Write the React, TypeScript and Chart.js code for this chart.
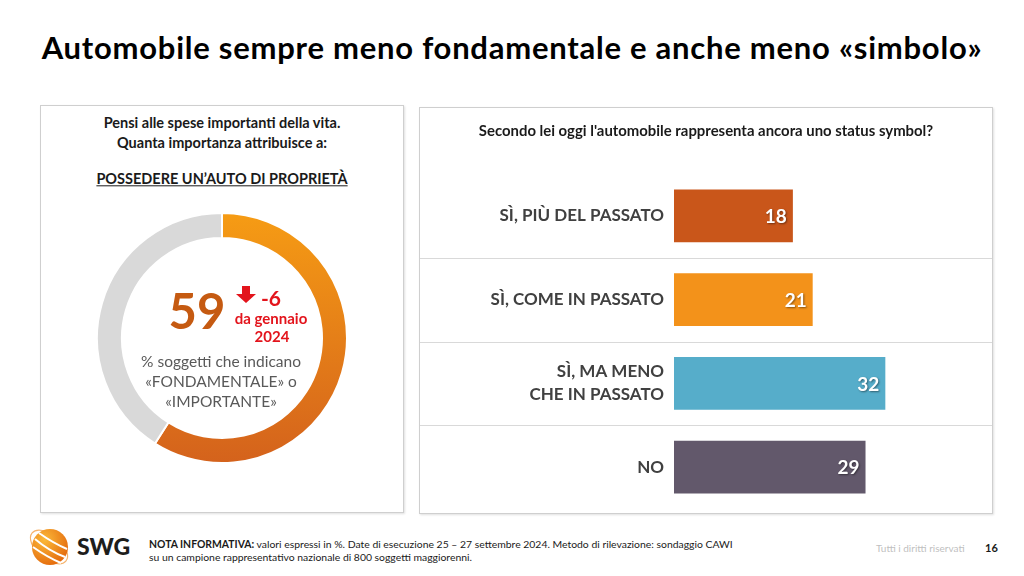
import React, { useEffect, useRef } from 'react';
import { Chart, registerables } from 'chart.js';

Chart.register(...registerables);

// ---------- DATA ----------
const barCategories: (string | string[])[] = [
  'SÌ, PIÙ DEL PASSATO',
  'SÌ, COME IN PASSATO',
  ['SÌ, MA MENO', 'CHE IN PASSATO'],
  'NO',
];
const barValues = [18, 21, 32, 29];
const barColors = ['#C9561A', '#F3921A', '#56ADCA', '#62586B'];

const donutLabels = ['«FONDAMENTALE» o «IMPORTANTE»', 'Altro'];
const donutValues = [59, 41];
const donutDelta = '-6';

const FONT = 'Lato, "Open Sans", sans-serif';

const abs = (s: React.CSSProperties): React.CSSProperties => ({ position: 'absolute', ...s });

function Centered({ x, y, size, weight = 'normal', color = '#1a1a1a', children, extra }: any) {
  return (
    <div
      style={abs({
        left: x,
        top: y,
        transform: 'translate(-50%, -50%)',
        fontFamily: FONT,
        fontSize: size,
        fontWeight: weight,
        color,
        lineHeight: 1,
        whiteSpace: 'nowrap',
        ...(extra || {}),
      })}
    >
      {children}
    </div>
  );
}

function BarChart() {
  const ref = useRef<HTMLCanvasElement>(null);
  useEffect(() => {
    if (!ref.current) return;
    const separators = {
      id: 'separators',
      beforeDatasetsDraw(chart: any) {
        const { ctx } = chart;
        const y = chart.scales.y;
        ctx.save();
        ctx.strokeStyle = '#D9D9D9';
        ctx.lineWidth = 1;
        for (let i = 1; i < barValues.length; i++) {
          const py = Math.round((y.getPixelForValue(i - 1) + y.getPixelForValue(i)) / 2) + 0.5;
          ctx.beginPath();
          ctx.moveTo(0, py);
          ctx.lineTo(chart.width, py);
          ctx.stroke();
        }
        ctx.restore();
      },
    };
    const valueLabels = {
      id: 'valueLabels',
      afterDatasetsDraw(chart: any) {
        const { ctx } = chart;
        const meta = chart.getDatasetMeta(0);
        ctx.save();
        ctx.font = `bold 19px ${FONT}`;
        ctx.textAlign = 'right';
        ctx.textBaseline = 'middle';
        ctx.fillStyle = '#FFFFFF';
        ctx.shadowColor = 'rgba(0,0,0,0.45)';
        ctx.shadowBlur = 2;
        ctx.shadowOffsetX = 1;
        ctx.shadowOffsetY = 1;
        meta.data.forEach((bar: any, i: number) => {
          ctx.fillText(String(barValues[i]), bar.x - 6, bar.y + 1);
        });
        ctx.restore();
      },
    };
    const chart = new Chart(ref.current, {
      type: 'bar',
      data: {
        labels: barCategories as any,
        datasets: [
          {
            data: barValues,
            backgroundColor: barColors,
            barPercentage: 0.63,
            categoryPercentage: 1,
            borderWidth: 0,
          },
        ],
      },
      options: {
        indexAxis: 'y',
        animation: false,
        responsive: false,
        maintainAspectRatio: false,
        layout: { padding: { top: 66, bottom: 4, right: 1, left: 0 } },
        plugins: { legend: { display: false }, tooltip: { enabled: false } },
        scales: {
          x: { display: false, min: 0, max: 48 },
          y: {
            grid: { display: false, drawTicks: false },
            border: { display: false },
            ticks: {
              color: '#404040',
              font: { family: FONT, size: 17, weight: 'bold', lineHeight: 1.35 },
              padding: 10,
            },
            afterFit: (s: any) => {
              s.width = 254;
              s.paddingTop = 0;
              s.paddingBottom = 0;
            },
          },
        },
      },
      plugins: [separators, valueLabels],
    });
    return () => chart.destroy();
  }, []);
  return <canvas ref={ref} width={572} height={405} style={{ width: 572, height: 405, display: 'block' }} />;
}

function DonutChart() {
  const ref = useRef<HTMLCanvasElement>(null);
  useEffect(() => {
    if (!ref.current) return;
    const chart = new Chart(ref.current, {
      type: 'doughnut',
      data: {
        labels: donutLabels,
        datasets: [
          {
            data: donutValues,
            backgroundColor: (c: any) => {
              if (c.dataIndex === 1) return '#D9D9D9';
              const area = c.chart.chartArea;
              if (!area) return '#EE8A16';
              const g = c.chart.ctx.createLinearGradient(0, area.top, 0, area.bottom);
              g.addColorStop(0, '#F69C14');
              g.addColorStop(1, '#D4621C');
              return g;
            },
            borderColor: '#FFFFFF',
            borderWidth: 2,
          },
        ],
      },
      options: {
        animation: false,
        responsive: false,
        maintainAspectRatio: false,
        cutout: '80%',
        plugins: { legend: { display: false }, tooltip: { enabled: false } },
      },
    });
    return () => chart.destroy();
  }, []);
  return <canvas ref={ref} width={252} height={252} style={{ width: 252, height: 252, display: 'block' }} />;
}

function Logo() {
  return (
    <svg width={48} height={48} viewBox="0 0 48 48" style={abs({ left: 25, top: 523 })}>
      <defs>
        <radialGradient id="lg" cx="35%" cy="30%" r="75%">
          <stop offset="0%" stopColor="#FBB93A" />
          <stop offset="100%" stopColor="#E46A0C" />
        </radialGradient>
      </defs>
      <ellipse cx="24" cy="24" rx="22" ry="12" transform="rotate(40 24 24)" fill="none" stroke="#F3A04A" strokeWidth="1.2" opacity="0.8" />
      <circle cx="25" cy="24" r="18" fill="url(#lg)" />
      <path d="M10 16 Q24 28 40 34" stroke="#fff" strokeWidth="2" fill="none" />
      <path d="M8 24 Q22 34 36 40" stroke="#fff" strokeWidth="2" fill="none" />
      <path d="M14 10 Q28 20 42 26" stroke="#fff" strokeWidth="2" fill="none" />
    </svg>
  );
}

export default function App() {
  const box: React.CSSProperties = {
    position: 'absolute',
    border: '1px solid #CFCFCF',
    boxShadow: '1px 1px 2px rgba(0,0,0,0.12)',
    background: '#fff',
    boxSizing: 'border-box',
  };
  return (
    <div
      style={{
        position: 'absolute',
        left: 0,
        top: 0,
        width: 1024,
        height: 576,
        background: '#FFFFFF',
        overflow: 'hidden',
        fontFamily: FONT,
      }}
    >
      {/* Title */}
      <Centered x={512} y={47} size={31} weight="bold" color="#000" extra={{ letterSpacing: 0.75 }}>
        Automobile sempre meno fondamentale e anche meno «simbolo»
      </Centered>

      {/* Left panel */}
      <div style={{ ...box, left: 40, top: 105, width: 364, height: 408 }} />
      <Centered x={222} y={123} size={14.5} weight="bold">
        Pensi alle spese importanti della vita.
      </Centered>
      <Centered x={222} y={143} size={14.5} weight="bold">
        Quanta importanza attribuisce a:
      </Centered>
      <Centered x={222} y={179} size={14.5} weight="bold" extra={{ textDecoration: 'underline', lineHeight: 1.2 }}>
        POSSEDERE UN’AUTO DI PROPRIETÀ
      </Centered>

      <div style={abs({ left: 96, top: 212 })}>
        <DonutChart />
      </div>

      <Centered x={197} y={310} size={49} weight="bold" color="#C55A11">
        {donutValues[0]}
      </Centered>
      <svg width={22} height={18} viewBox="0 0 22 18" style={abs({ left: 235, top: 286 })}>
        <polygon points="7,0 15,0 15,8 21,8 11,17 1,8 7,8" fill="#E3141C" />
      </svg>
      <Centered x={271} y={297} size={21} weight="bold" color="#E3141C">
        {donutDelta}
      </Centered>
      <Centered x={271} y={318} size={15} weight="bold" color="#E3141C">
        da gennaio
      </Centered>
      <Centered x={272} y={336} size={15} weight="bold" color="#E3141C">
        2024
      </Centered>
      <Centered x={221} y={362} size={15.5} color="#595959">
        % soggetti che indicano
      </Centered>
      <Centered x={221} y={382} size={15.5} color="#595959">
        «FONDAMENTALE» o
      </Centered>
      <Centered x={221} y={402} size={15.5} color="#595959">
        «IMPORTANTE»
      </Centered>

      {/* Right panel */}
      <div style={{ ...box, left: 419, top: 107, width: 574, height: 407 }} />
      <div style={abs({ left: 420, top: 108 })}>
        <BarChart />
      </div>
      <Centered x={706} y={130} size={14.9} weight="bold">
        Secondo lei oggi l'automobile rappresenta ancora uno status symbol?
      </Centered>

      {/* Footer */}
      <Logo />
      <div style={abs({ left: 77, top: 535, fontSize: 23, fontWeight: 900, color: '#1d1d1b', lineHeight: 1 })}>SWG</div>
      <div style={abs({ left: 149, top: 538, fontSize: 10.4, color: '#1a1a1a', lineHeight: '13px', whiteSpace: 'nowrap' })}>
        <b>NOTA INFORMATIVA:</b> valori espressi in %. Date di esecuzione 25 – 27 settembre 2024. Metodo di rilevazione: sondaggio CAWI
        <br />
        su un campione rappresentativo nazionale di 800 soggetti maggiorenni.
      </div>
      <div style={abs({ left: 876, top: 543, fontSize: 10, color: '#BFBFBF', lineHeight: 1, whiteSpace: 'nowrap' })}>
        Tutti i diritti riservati
      </div>
      <div style={abs({ left: 985, top: 542, fontSize: 11, fontWeight: 'bold', color: '#1a1a1a', lineHeight: 1 })}>16</div>
    </div>
  );
}
